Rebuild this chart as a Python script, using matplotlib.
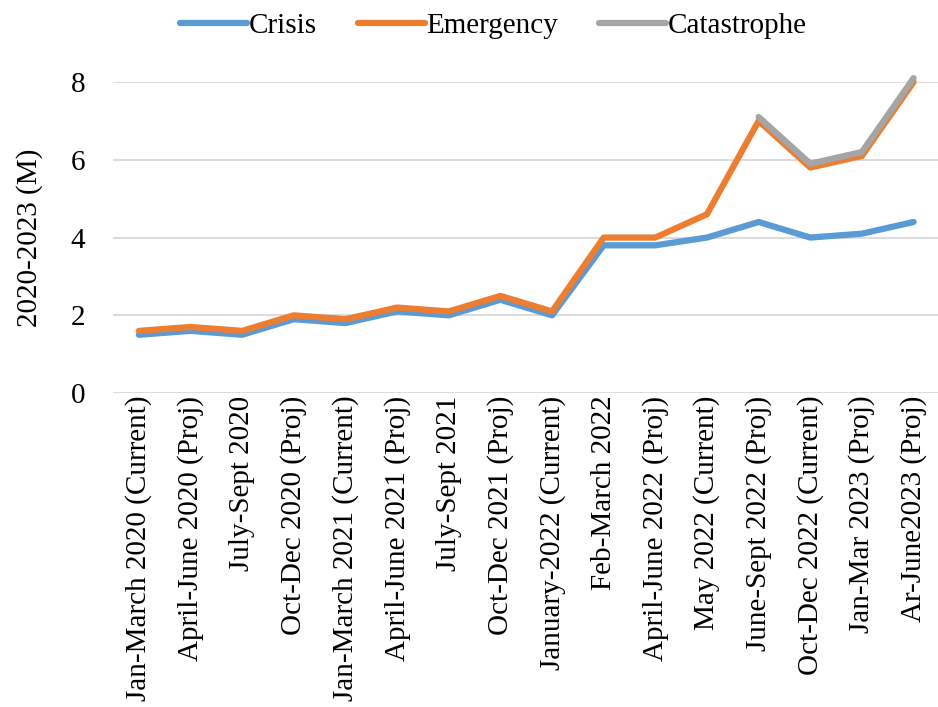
import numpy as np
import matplotlib.pyplot as plt
from matplotlib import rcParams

rcParams['font.family'] = ['Liberation Serif', 'DejaVu Serif']

periods = ['Jan-March 2020 (Current)', 'April-June 2020 (Proj)', 'July-Sept 2020',
           'Oct-Dec 2020 (Proj)', 'Jan-March 2021 (Current)', 'April-June 2021 (Proj)',
           'July-Sept 2021', 'Oct-Dec 2021 (Proj)', 'January-2022 (Current)',
           'Feb-March 2022', 'April-June 2022 (Proj)', 'May 2022 (Current)',
           'June-Sept 2022 (Proj)', 'Oct-Dec 2022 (Current)', 'Jan-Mar 2023 (Proj)',
           'Ar-June2023 (Proj)']
crisis = [1.5, 1.6, 1.5, 1.9, 1.8, 2.1, 2.0, 2.4, 2.0, 3.8, 3.8, 4.0, 4.4, 4.0, 4.1, 4.4]
emergency = [1.6, 1.7, 1.6, 2.0, 1.9, 2.2, 2.1, 2.5, 2.1, 4.0, 4.0, 4.6, 7.0, 5.8, 6.1, 8.0]
catastrophe = [np.nan] * 12 + [7.1, 5.9, 6.2, 8.1]

x = np.arange(len(periods))
FS = 21

fig = plt.figure(figsize=(9.38, 7.07), dpi=100)
ax = fig.add_axes([0.1205, 0.444, 0.881, 0.440])
ax.set_axisbelow(True)
ax.grid(axis='y', color='#D9D9D9', linewidth=1.3)

lw = 4.5
ax.plot(x, crisis, color='#5B9BD5', lw=lw, solid_capstyle='round', solid_joinstyle='round',
        label='Crisis', clip_on=False)
ax.plot(x, emergency, color='#ED7D31', lw=lw, solid_capstyle='round', solid_joinstyle='round',
        label='Emergency', clip_on=False)
ax.plot(x, catastrophe, color='#A5A5A5', lw=lw, solid_capstyle='round', solid_joinstyle='round',
        label='Catastrophe', clip_on=False)

ax.set_xlim(-0.5, len(periods) - 0.5)
ax.set_ylim(0, 8)
ax.set_yticks([0, 2, 4, 6, 8])
ax.set_xticks(x)
ax.set_xticklabels(periods, rotation=90, fontsize=FS)
ax.tick_params(axis='y', labelsize=FS, length=0, pad=20)
ax.tick_params(axis='x', length=0, pad=2)
for s in ['top', 'right', 'left', 'bottom']:
    ax.spines[s].set_visible(False)
ax.set_ylabel('2020-2023 (M)', fontsize=FS, labelpad=20)

ax.legend(loc='center', bbox_to_anchor=(0.46, 1.18), ncol=3, frameon=False,
          fontsize=FS, handlelength=2.3, handletextpad=0.05, columnspacing=1.4)

plt.savefig('out.png', dpi=100)
